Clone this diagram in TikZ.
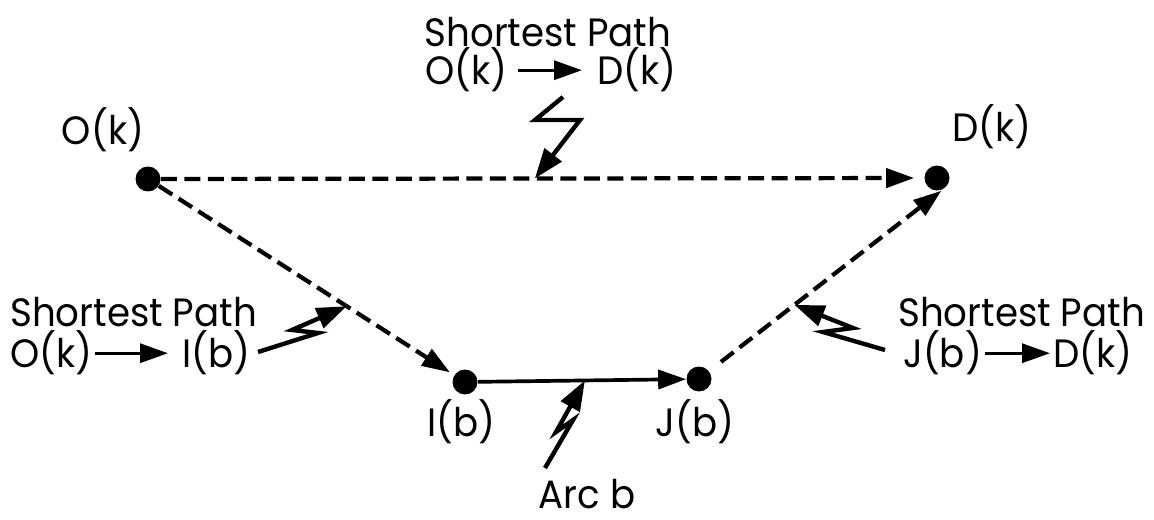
\documentclass[tikz,border=0pt]{standalone}
\usepackage{fontspec}
\setmainfont{Poppins}[FakeStretch=0.94]
\usetikzlibrary{arrows.meta,positioning}

\begin{document}
\begin{tikzpicture}[x=0.02cm,y=-0.02cm,
  dot/.style={circle,fill,inner sep=0pt,minimum size=0.5cm},
  lbl/.style={inner sep=0pt,font=\fontsize{22.5}{26}\selectfont},
  spath/.style={line width=2.4pt,dash pattern=on 0.32cm off 0.15cm},
  head/.style={-{Triangle[length=0.56cm,width=0.38cm]}},
  bolt/.style={line width=2.5pt,line join=miter,-{Triangle[length=0.6cm,width=0.42cm]}}]
  \useasboundingbox (0,0) rectangle (1154,520);

  % nodes of the network
  \node[dot] (O) at (148,179) {};
  \node[dot] (D) at (937,178) {};
  \node[dot] (I) at (465,382) {};
  \node[dot] (J) at (699,379) {};
  \node[lbl,anchor=base] (Olab) at (103,145) {O(k)};
  \node[lbl,anchor=base] (Dlab) at (992,142) {D(k)};
  \node[lbl,anchor=base] (Ilab) at (461,437) {I(b)};
  \node[lbl,anchor=base] (Jlab) at (695,437) {J(b)};
  \node[lbl,anchor=base] (arclab) at (587,508) {Arc b};

  % paths
  \draw[spath,head,shorten >=0.2cm] (O) -- coordinate[pos=0.49] (od) (D);
  \draw[spath,head,shorten >=0.1cm] (O) -- coordinate[pos=0.636] (oi) (I);
  \draw[head,line width=2.1pt] (I) -- coordinate[pos=0.514] (ij) (J);
  \draw[spath,head,shorten <=0.3cm,shorten >=0.12cm] (J) -- coordinate[pos=0.36] (jd) (D.south east);

  % shortest path labels
  \node[lbl,anchor=base] (sptop) at (548,47) {Shortest Path};
  \node[lbl,anchor=base west] (okt) at (425,85) {O(k)};
  \node[lbl,anchor=base west] (dkt) at (597,85) {D(k)};
  \draw[head,line width=1.9pt,shorten <=0.2cm,shorten >=0.3cm] (okt) -- (dkt);

  \node[lbl,anchor=base west] (spleft) at (10,327) {Shortest Path};
  \node[lbl,anchor=base west] (okl) at (10,368) {O(k)};
  \node[lbl,anchor=base west] (ibl) at (182,368) {I(b)};
  \draw[head,line width=1.9pt,shorten <=0.04cm,shorten >=0.28cm] (okl) -- (ibl);

  \node[lbl,anchor=base west] (spright) at (898,327) {Shortest Path};
  \node[lbl,anchor=base west] (jbr) at (903,368) {J(b)};
  \node[lbl,anchor=base west] (dkr) at (1053,368) {D(k)};
  \draw[head,line width=1.9pt,shorten <=0.06cm,shorten >=0.06cm] (jbr) -- (dkr);

  % lightning pointers
  \coordinate (boltod) at (563,97);
  \coordinate (boltoi) at (258,352);
  \coordinate (boltij) at (545,468);
  \coordinate (boltjd) at (885,350);
  \draw[bolt] (boltod) -- ++(-28,23) -- ++(45,0) -- (od);
  \draw[bolt] (boltoi) -- ++(60,-19) -- ++(-26,-3) -- (oi);
  \draw[bolt] (boltij) -- ++(28,-48) -- ++(-17,12) -- (ij);
  \draw[bolt] (boltjd) -- ++(-62,-18) -- ++(30,-4) -- (jd);
\end{tikzpicture}
\end{document}
